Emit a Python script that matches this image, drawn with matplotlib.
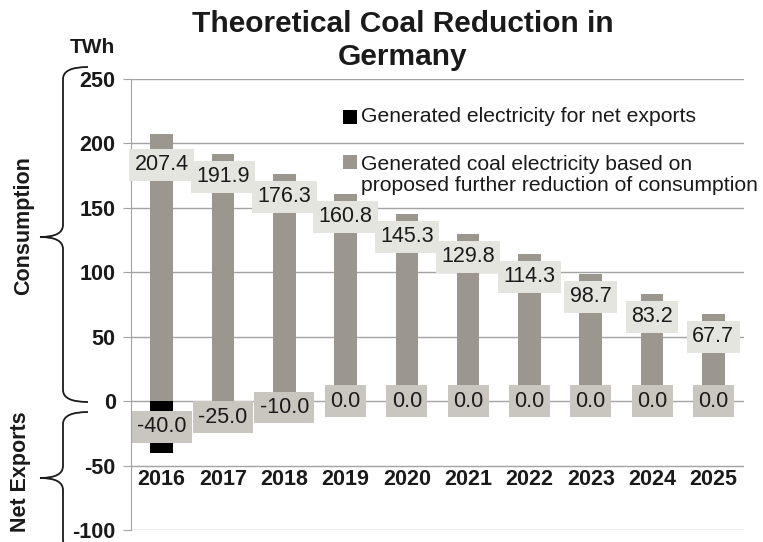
import numpy as np
import matplotlib.pyplot as plt
from matplotlib.path import Path
from matplotlib.patches import PathPatch, Rectangle

plt.rcParams['font.family'] = ['Liberation Sans', 'DejaVu Sans']
plt.rcParams['axes.unicode_minus'] = False

years = ['2016', '2017', '2018', '2019', '2020', '2021', '2022', '2023', '2024', '2025']
coal = [207.4, 191.9, 176.3, 160.8, 145.3, 129.8, 114.3, 98.7, 83.2, 67.7]
exports = [-40.0, -25.0, -10.0, 0.0, 0.0, 0.0, 0.0, 0.0, 0.0, 0.0]

# label shift below bar top (pixels)
shift = [-31, -23, -23, -23, -23, -23, -23, -23, -23, -23]

W, H = 763, 542
bar_grey = '#9b978f'
grid_grey = '#a3a3a3'
txt = '#1a1a1a'
fs = 15.5

fig = plt.figure(figsize=(W / 100, H / 100), dpi=100)
ax = fig.add_axes([131 / W, 1 - 530 / H, (744 - 131) / W, (530 - 79) / H])

x = np.arange(len(years))
ax.bar(x, coal, width=0.37, color=bar_grey, zorder=2)
ax.bar(x, exports, width=0.37, color='black', zorder=2)

ax.set_xlim(-0.5, len(years) - 0.5)
ax.set_ylim(-100, 250)
ax.set_yticks(range(-100, 251, 50))
ax.set_xticks([])
ax.yaxis.grid(True, color=grid_grey, lw=1)
ax.set_axisbelow(True)
for s in ['top', 'right', 'bottom']:
    ax.spines[s].set_visible(False)
ax.spines['left'].set_color(grid_grey)
ax.tick_params(axis='y', length=6, color=grid_grey, labelsize=fs, pad=5, labelcolor=txt)
for lab in ax.get_yticklabels():
    lab.set_fontweight('bold')

for xi, yr in zip(x, years):
    ax.text(xi, -61, yr, ha='center', va='center', fontsize=fs, fontweight='bold', color=txt)

for xi, v, dy in zip(x, coal, shift):
    ax.annotate(f'{v:.1f}', (xi, v), xytext=(0, dy), textcoords='offset pixels',
                ha='center', va='center', fontsize=fs, color=txt, zorder=4,
                bbox=dict(boxstyle='square,pad=0.25', fc='#e5e5e0', ec='none'))

for xi, v in zip(x, exports):
    ax.text(xi, v / 2, f'{v:.1f}', ha='center', va='center', fontsize=fs, color=txt, zorder=5,
            bbox=dict(boxstyle='square,pad=0.25', fc='#c9c6c0', ec='none'))

# title and axis texts
fig.text(403 / W, 1 - 32 / H, 'Theoretical Coal Reduction in', ha='center', va='baseline',
         fontsize=21.5, fontweight='bold', color=txt)
fig.text(403 / W, 1 - 65 / H, 'Germany', ha='center', va='baseline',
         fontsize=21.5, fontweight='bold', color=txt)
fig.text(70 / W, 1 - 53 / H, 'TWh', ha='left', va='baseline', fontsize=15, fontweight='bold', color=txt)
fig.text(24 / W, 1 - 226 / H, 'Consumption', rotation=90, ha='center', va='center',
         fontsize=fs, fontweight='bold', color=txt)
fig.text(21 / W, 1 - 472 / H, 'Net Exports', rotation=90, ha='center', va='center',
         fontsize=fs, fontweight='bold', color=txt)

# legend
lfs = 15.2
fig.patches.append(Rectangle((343 / W, 1 - 124 / H), 14 / W, 14 / H, transform=fig.transFigure,
                             fc='black', ec='none'))
fig.text(361 / W, 1 - 117 / H, 'Generated electricity for net exports', ha='left', va='center',
         fontsize=lfs, color=txt)
fig.patches.append(Rectangle((343 / W, 1 - 169 / H), 14 / W, 14 / H, transform=fig.transFigure,
                             fc=bar_grey, ec='none'))
fig.text(361 / W, 1 - 175 / H,
         'Generated coal electricity based on\nproposed further reduction of consumption',
         ha='left', va='center', fontsize=lfs, color=txt, linespacing=1.12)


def brace(y_top, y_tip, y_bot, r=12, x_end=88, x_line=63, x_tip=40):
    pts = [(x_end, y_top), (x_line, y_top), (x_line, y_top + r),
           (x_line, y_tip - r), (x_line, y_tip), (x_tip, y_tip),
           (x_line, y_tip), (x_line, y_tip + r),
           (x_line, y_bot - r), (x_line, y_bot), (x_end, y_bot)]
    codes = [Path.MOVETO, Path.CURVE3, Path.CURVE3,
             Path.LINETO, Path.CURVE3, Path.CURVE3,
             Path.CURVE3, Path.CURVE3,
             Path.LINETO, Path.CURVE3, Path.CURVE3]
    verts = [(px / W, 1 - py / H) for px, py in pts]
    fig.patches.append(PathPatch(Path(verts, codes), transform=fig.transFigure,
                                 fc='none', ec=txt, lw=1.3))


brace(67, 237, 402)
brace(412, 478, 552)

fig.savefig('out.png', dpi=100)
